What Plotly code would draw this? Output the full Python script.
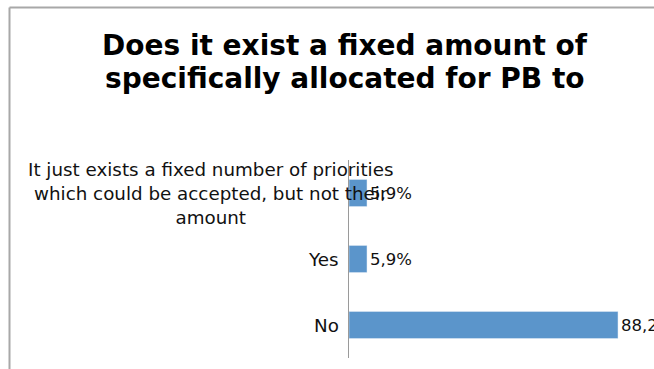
import plotly.graph_objects as go

categories = ["No", "Yes", "It just exists a fixed number of priorities<br>which could be accepted, but not their<br>amount"]
values = [88.2, 5.9, 5.9]
value_labels = ["88,2%", "5,9%", "5,9%"]
title_lines = ["Does it exist a fixed amount of", "specifically allocated for PB to"]

W, H = 654, 369
fig = go.Figure()
fig.add_trace(go.Bar(
    y=categories, x=values, orientation="h",
    marker=dict(color="#5B95CB"), width=0.41,
    text=value_labels, textposition="outside", cliponaxis=False,
    textfont=dict(family="DejaVu Sans", size=16.5, color="#111111"),
))

x0 = 349 / W
fig.update_layout(
    width=W, height=H, margin=dict(l=0, r=0, t=0, b=0),
    paper_bgcolor="white", plot_bgcolor="white", showlegend=False,
    xaxis=dict(domain=[x0, 1.0], range=[0, 100], visible=False),
    yaxis=dict(domain=[(H - 358) / H, (H - 160) / H], range=[-0.5, 2.5],
               showticklabels=False, showline=True, linecolor="#9a9a9a", linewidth=1,
               showgrid=False, zeroline=False, ticks=""),
    font=dict(family="DejaVu Sans", color="#111111"),
)

# category labels
for i, c in enumerate(categories):
    if "<br>" in c:
        fig.add_annotation(x=210 / W, xref="paper", y=i, yref="y", text=c, showarrow=False,
                           xanchor="center", align="center", font=dict(size=18.3, color="#111111"))
    else:
        fig.add_annotation(x=341 / W, xref="paper", y=i, yref="y", text=c, showarrow=False,
                           xanchor="right", font=dict(size=18.3, color="#111111"))

# title lines
for j, (t, yc) in enumerate(zip(title_lines, [45, 78])):
    fig.add_annotation(x=345 / W, xref="paper", y=(H - yc) / H, yref="paper", text="<b>" + t + "</b>",
                       showarrow=False, xanchor="center", yanchor="middle",
                       font=dict(size=28, color="#000000", family="DejaVu Sans"))

# chart frame (left and top borders)
fig.add_shape(type="line", xref="paper", yref="paper", x0=9.5 / W, x1=9.5 / W, y0=0, y1=(H - 7.5) / H,
              line=dict(color="#a8a8a8", width=2))
fig.add_shape(type="line", xref="paper", yref="paper", x0=9.5 / W, x1=1, y0=(H - 7.5) / H, y1=(H - 7.5) / H,
              line=dict(color="#a8a8a8", width=2))

fig.write_html("out.html")
